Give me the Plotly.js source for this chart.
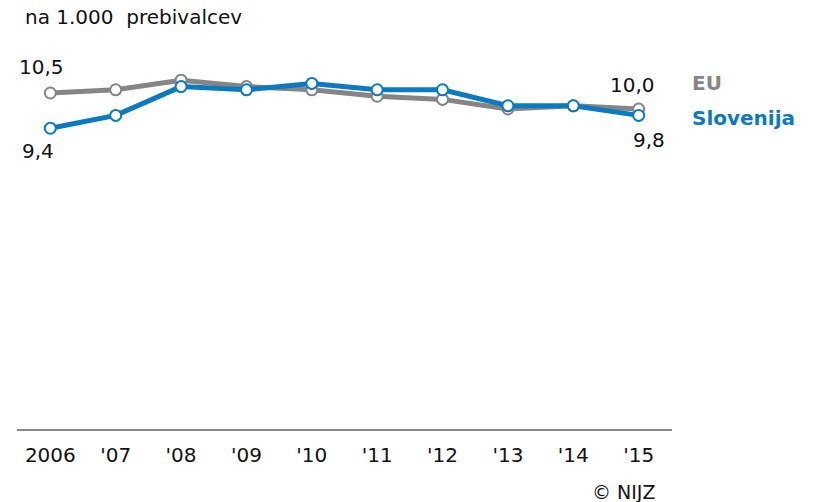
<!DOCTYPE html>
<html>
<head>
<meta charset="utf-8">
<script src="https://cdn.plot.ly/plotly-3.0.1.min.js"></script>
<style>html,body{margin:0;padding:0;background:#fff;}#chart{width:814px;height:502px;}</style>
</head>
<body>
<div id="chart"></div>
<script>
const years = ['2006', "'07", "'08", "'09", "'10", "'11", "'12", "'13", "'14", "'15"];
const euValues = [10.5, 10.6, 10.9, 10.7, 10.6, 10.4, 10.3, 10.0, 10.1, 10.0];
const sloValues = [9.4, 9.8, 10.7, 10.6, 10.8, 10.6, 10.6, 10.1, 10.1, 9.8];
const seriesNames = ['EU', 'Slovenija'];
const unitLabel = 'na 1.000&nbsp; prebivalcev';
const sourceLabel = '© NIJZ';

const GRAY = '#858585';
const BLUE = '#0a7bc2';
const FONT = 'DejaVu Sans, Verdana, sans-serif';
const xs = years.map((_, i) => i);
const fmt = v => v.toFixed(1).replace('.', ',');
const last = years.length - 1;

function trace(vals, color, name) {
  return {
    x: xs, y: vals, name: name, type: 'scatter', mode: 'lines+markers',
    line: {color: color, width: 5},
    marker: {symbol: 'circle', size: 11, color: '#ffffff', line: {color: color, width: 2}},
    hoverinfo: 'skip', cliponaxis: false
  };
}

const data = [trace(euValues, GRAY, seriesNames[0]), trace(sloValues, BLUE, seriesNames[1])];

const annFont = {family: FONT, size: 20, color: '#111111'};
const annotations = [
  {x: 0, y: euValues[0], xref: 'x', yref: 'y', text: fmt(euValues[0]), showarrow: false, xshift: -9, yshift: 26, font: annFont},
  {x: 0, y: sloValues[0], xref: 'x', yref: 'y', text: fmt(sloValues[0]), showarrow: false, xshift: -12, yshift: -23, font: annFont},
  {x: last, y: euValues[last], xref: 'x', yref: 'y', text: fmt(euValues[last]), showarrow: false, xshift: -6, yshift: 24, font: annFont},
  {x: last, y: sloValues[last], xref: 'x', yref: 'y', text: fmt(sloValues[last]), showarrow: false, xshift: 10, yshift: -25, font: annFont},
  {x: 690, y: 502 - 83, xref: 'paper', yref: 'paper', text: '<b>' + seriesNames[0] + '</b>', showarrow: false, xanchor: 'left', yanchor: 'middle', font: {family: FONT, size: 20, color: GRAY}},
  {x: 690, y: 502 - 118, xref: 'paper', yref: 'paper', text: '<b>' + seriesNames[1] + '</b>', showarrow: false, xanchor: 'left', yanchor: 'middle', font: {family: FONT, size: 20, color: BLUE}}
];
const ml = 17, mr = 142, mt = 45, mb = 73;
const pw = 814 - ml - mr, ph = 502 - mt - mb;
annotations.forEach(a => {
  if (a.xref === 'paper') { a.x = (a.x - ml) / pw; a.y = (a.y - mb) / ph; }
});
annotations.push({
  x: (657 - ml) / pw, y: (502 - 492 - mb) / ph, xref: 'paper', yref: 'paper',
  text: sourceLabel, showarrow: false, xanchor: 'right', yanchor: 'middle',
  font: {family: FONT, size: 19, color: '#111111'}
});

const layout = {
  width: 814, height: 502,
  margin: {l: ml, r: mr, t: mt, b: mb, pad: 0},
  paper_bgcolor: '#ffffff', plot_bgcolor: '#ffffff',
  showlegend: false,
  font: {family: FONT, size: 20, color: '#111111'},
  title: {text: unitLabel, x: 25 / 814, xanchor: 'left', xref: 'container', y: 1 - 17 / 502, yanchor: 'middle', yref: 'container', font: {family: FONT, size: 20, color: '#111111'}},
  xaxis: {
    range: [-0.51, 9.51], tickmode: 'array', tickvals: xs, ticktext: years,
    showgrid: false, zeroline: false, showline: true, linecolor: '#8a8a8a', linewidth: 2,
    ticks: 'outside', ticklen: 7, tickcolor: 'rgba(0,0,0,0)',
    tickfont: {family: FONT, size: 20, color: '#111111'}, fixedrange: true
  },
  yaxis: {range: [0, 12], visible: false, showgrid: false, zeroline: false, fixedrange: true},
  annotations: annotations
};

Plotly.newPlot('chart', data, layout, {displayModeBar: false, staticPlot: true});
</script>
</body>
</html>
